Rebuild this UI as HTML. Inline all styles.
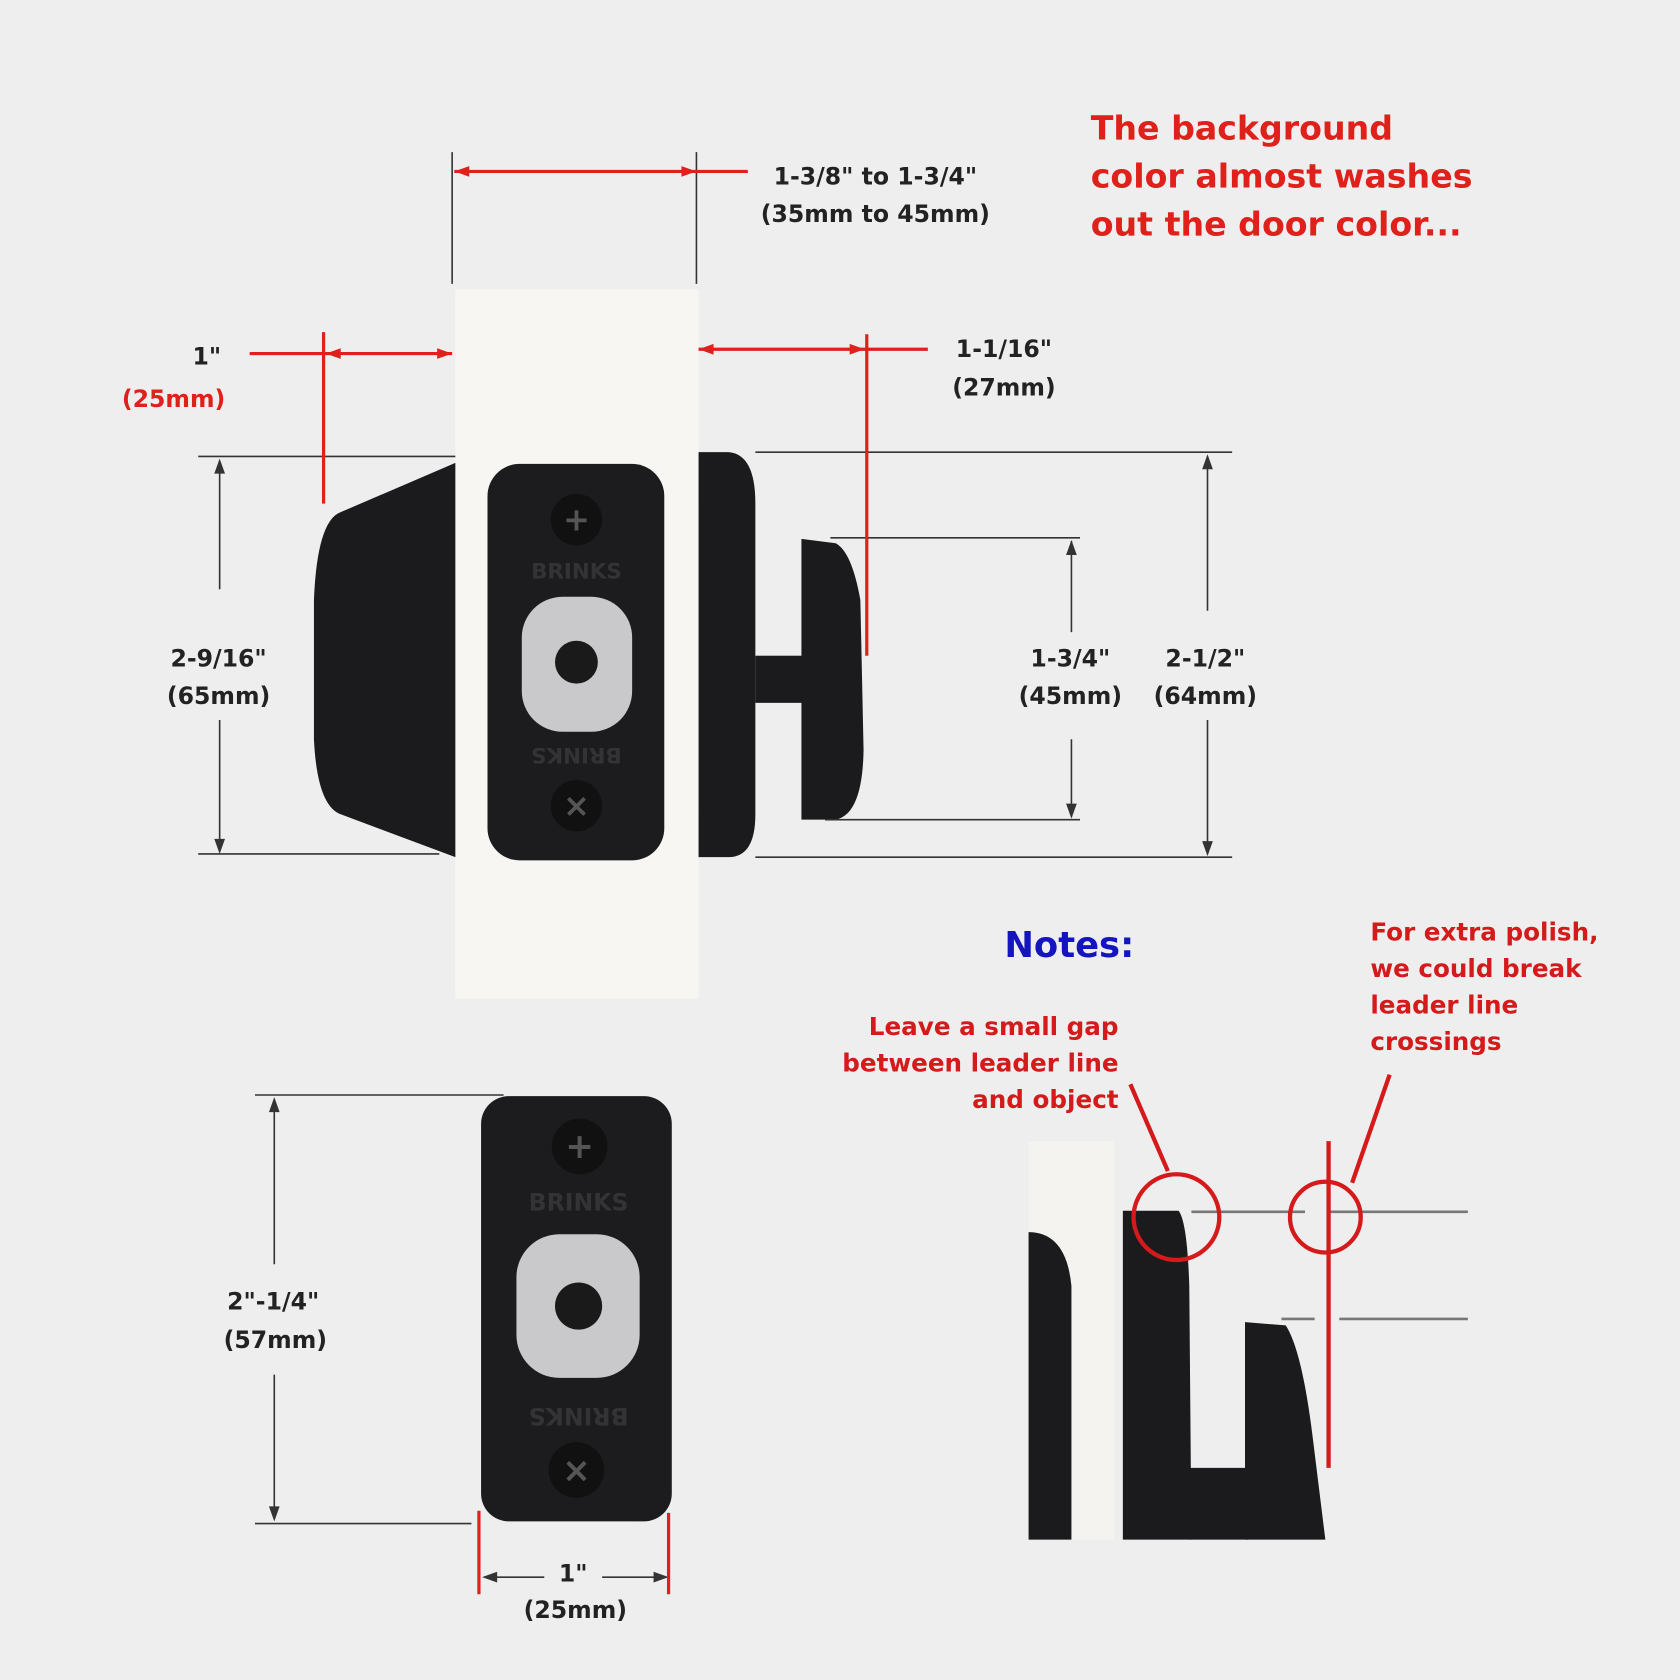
<!DOCTYPE html>
<html><head><meta charset="utf-8"><style>
html,body{margin:0;padding:0;background:#efeeef;}
svg{display:block;}
text{font-family:"DejaVu Sans","Liberation Sans",sans-serif;font-weight:bold;}
</style></head><body>
<svg width="1680" height="1680" viewBox="0 0 1568 1568" xmlns="http://www.w3.org/2000/svg">
<rect width="1568" height="1568" fill="#efeeef"/>
<rect x="425" y="270" width="227" height="662" fill="#f7f6f3"/>
<path d="M425,432 L318,478 Q296,486 293,560 L293,690 Q296,752 318,760 L425,800 Z" fill="#1b1b1d"/>
<rect x="455" y="433" width="165" height="370" rx="30" fill="#1c1c1e"/>
<circle cx="538" cy="485" r="24" fill="#111"/><text x="538" y="495" font-size="30" fill="#555" text-anchor="middle">+</text>
<circle cx="538" cy="752" r="24" fill="#111"/><text x="538" y="762" font-size="30" fill="#555" text-anchor="middle">×</text>
<text x="538" y="540" font-size="20" fill="#333335" text-anchor="middle">BRINKS</text>
<text x="538" y="712" font-size="20" fill="#333335" text-anchor="middle" transform="rotate(180 538 705)">BRINKS</text>
<rect x="487" y="557" width="103" height="126" rx="38" fill="#c9c9cb"/>
<circle cx="538" cy="618" r="20" fill="#1a1a1a"/>
<path d="M652,422 L680,422 Q705,424 705,470 L705,760 Q705,800 680,800 L652,800 Z" fill="#1b1b1d"/>
<rect x="705" y="612" width="45" height="44" fill="#1b1b1d"/>
<path d="M748,503 L780,507 Q795,515 803,560 L806,700 Q805,760 780,765 L748,765 Z" fill="#1b1b1d"/>
<g stroke="#333" stroke-width="1.5" fill="none">
<line x1="185" y1="426" x2="425" y2="426"/><line x1="185" y1="797" x2="410" y2="797"/>
<line x1="205" y1="430" x2="205" y2="550"/><line x1="205" y1="672" x2="205" y2="795"/>
<line x1="422" y1="142" x2="422" y2="265"/><line x1="650" y1="142" x2="650" y2="265"/>
<line x1="705" y1="422" x2="1150" y2="422"/><line x1="705" y1="800" x2="1150" y2="800"/>
<line x1="1127" y1="426" x2="1127" y2="570"/><line x1="1127" y1="672" x2="1127" y2="797"/>
<line x1="775" y1="502" x2="1008" y2="502"/><line x1="770" y1="765" x2="1008" y2="765"/>
<line x1="1000" y1="505" x2="1000" y2="590"/><line x1="1000" y1="690" x2="1000" y2="762"/>
<line x1="238" y1="1022" x2="470" y2="1022"/><line x1="238" y1="1422" x2="440" y2="1422"/>
<line x1="256" y1="1026" x2="256" y2="1180"/><line x1="256" y1="1283" x2="256" y2="1418"/>
<line x1="452" y1="1472" x2="508" y2="1472"/><line x1="562" y1="1472" x2="622" y2="1472"/>
</g>
<g fill="#333">
<polygon points="205,428 200,442 210,442"/><polygon points="205,797 200,783 210,783"/>
<polygon points="1127,424 1122,438 1132,438"/><polygon points="1127,799 1122,785 1132,785"/>
<polygon points="1000,504 995,518 1005,518"/><polygon points="1000,764 995,750 1005,750"/>
<polygon points="256,1024 251,1038 261,1038"/><polygon points="256,1420 251,1406 261,1406"/>
<polygon points="450,1472 464,1467 464,1477"/><polygon points="624,1472 610,1467 610,1477"/>
</g>
<g stroke="#e0201b" stroke-width="3" fill="none">
<line x1="424" y1="160" x2="698" y2="160"/>
<line x1="233" y1="330" x2="422" y2="330"/><line x1="302" y1="310" x2="302" y2="470"/>
<line x1="652" y1="326" x2="866" y2="326"/><line x1="809" y1="312" x2="809" y2="612"/>
<line x1="447" y1="1410" x2="447" y2="1488"/><line x1="624" y1="1412" x2="624" y2="1488"/>
</g>
<g fill="#e0201b">
<polygon points="424,160 438,155 438,165"/><polygon points="650,160 636,155 636,165"/>
<polygon points="304,330 318,325 318,335"/><polygon points="422,330 408,325 408,335"/>
<polygon points="652,326 666,321 666,331"/><polygon points="807,326 793,321 793,331"/>
</g>
<rect x="449" y="1023" width="178" height="397" rx="26" fill="#1c1c1e"/>
<circle cx="541" cy="1070" r="26" fill="#111"/><text x="541" y="1081" font-size="32" fill="#555" text-anchor="middle">+</text>
<circle cx="538" cy="1372" r="26" fill="#111"/><text x="538" y="1383" font-size="32" fill="#555" text-anchor="middle">×</text>
<text x="540" y="1130" font-size="22" fill="#333335" text-anchor="middle">BRINKS</text>
<text x="540" y="1330" font-size="22" fill="#333335" text-anchor="middle" transform="rotate(180 540 1322)">BRINKS</text>
<rect x="482" y="1152" width="115" height="134" rx="40" fill="#c9c9cb"/>
<circle cx="540" cy="1219" r="22" fill="#1a1a1a"/>
<rect x="960" y="1065" width="80" height="372" fill="#f4f3f0"/>
<path d="M960,1150 Q995,1150 1000,1200 L1000,1437 L960,1437 Z" fill="#1b1b1d"/>
<path d="M1048,1130 L1100,1130 Q1108,1140 1110,1200 L1112,1437 L1048,1437 Z" fill="#1b1b1d"/>
<path d="M1110,1370 L1165,1370 L1165,1437 L1110,1437 Z" fill="#1b1b1d"/>
<path d="M1162,1234 L1200,1237 Q1215,1260 1225,1340 L1237,1437 L1162,1437 Z" fill="#1b1b1d"/>
<g stroke="#777" stroke-width="2.5">
<line x1="1112" y1="1131" x2="1218" y2="1131"/><line x1="1240" y1="1131" x2="1370" y2="1131"/>
<line x1="1196" y1="1231" x2="1227" y2="1231"/><line x1="1250" y1="1231" x2="1370" y2="1231"/>
</g>
<g stroke="#d41a1a" stroke-width="4" fill="none">
<circle cx="1098" cy="1136" r="40"/><circle cx="1237" cy="1136" r="33"/>
<line x1="1240" y1="1065" x2="1240" y2="1370"/>
<line x1="1055" y1="1012" x2="1090" y2="1093"/><line x1="1297" y1="1003" x2="1262" y2="1104"/>
</g>
<g font-size="22" fill="#222">
<text x="817" y="172" text-anchor="middle">1-3/8" to 1-3/4"</text>
<text x="817" y="207" text-anchor="middle">(35mm to 45mm)</text>
<text x="193" y="340" text-anchor="middle">1"</text>
<text x="937" y="333" text-anchor="middle">1-1/16"</text>
<text x="937" y="369" text-anchor="middle">(27mm)</text>
<text x="204" y="622" text-anchor="middle">2-9/16"</text>
<text x="204" y="657" text-anchor="middle">(65mm)</text>
<text x="999" y="622" text-anchor="middle">1-3/4"</text>
<text x="999" y="657" text-anchor="middle">(45mm)</text>
<text x="1125" y="622" text-anchor="middle">2-1/2"</text>
<text x="1125" y="657" text-anchor="middle">(64mm)</text>
<text x="255" y="1222" text-anchor="middle">2"-1/4"</text>
<text x="257" y="1258" text-anchor="middle">(57mm)</text>
<text x="535" y="1476" text-anchor="middle">1"</text>
<text x="537" y="1510" text-anchor="middle">(25mm)</text>
</g>
<text x="162" y="380" font-size="22" fill="#e0201b" text-anchor="middle">(25mm)</text>
<g font-size="31" fill="#e0201b">
<text x="1018" y="130">The background</text>
<text x="1018" y="175">color almost washes</text>
<text x="1018" y="220">out the door color...</text>
</g>
<text x="998" y="893" font-size="33" fill="#1515c0" text-anchor="middle">Notes:</text>
<g font-size="23" fill="#d41a1a">
<text x="1044" y="966" text-anchor="end">Leave a small gap</text>
<text x="1044" y="1000" text-anchor="end">between leader line</text>
<text x="1044" y="1034" text-anchor="end">and object</text>
<text x="1279" y="878">For extra polish,</text>
<text x="1279" y="912">we could break</text>
<text x="1279" y="946">leader line</text>
<text x="1279" y="980">crossings</text>
</g>
</svg>
</body></html>
